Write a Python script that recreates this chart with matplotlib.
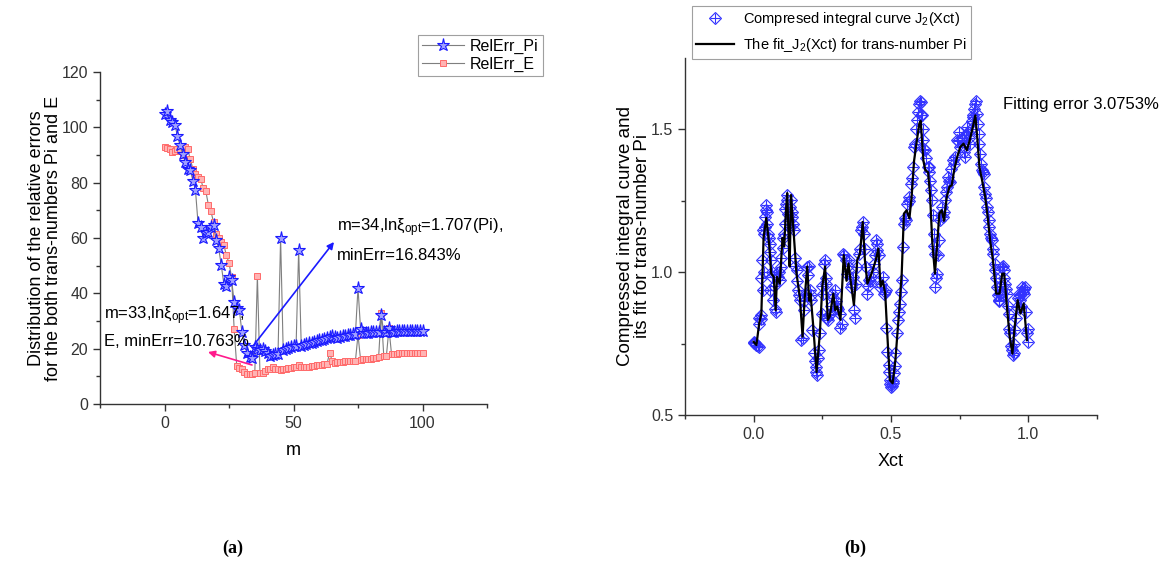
import matplotlib
matplotlib.use("Agg")
import matplotlib.pyplot as plt
import numpy as np

plt.rcParams['font.family'] = ['Liberation Sans', 'DejaVu Sans']
plt.rcParams['mathtext.fontset'] = 'custom'
plt.rcParams['mathtext.rm'] = 'Liberation Sans'
plt.rcParams['mathtext.it'] = 'Liberation Sans:italic'

# ---------------- data (a) ----------------
m_vals = list(range(0, 101))
relerr_pi = [105, 106, 102.5, 102, 101, 97, 93.5, 90.5, 87.5, 85,
             84.6, 80.7, 77.3, 65.3, 64, 60, 61.7, 62.3, 64, 64.7,
             59.3, 56.3, 50.2, 43.4, 42.6, 46, 44.8, 37, 34.6, 34,
             26, 21.3, 18.3, 17.1, 16.8, 20.7, 20, 19.5, 20, 19,
             18.5, 17.5, 17.8, 18, 18.2, 60, 19.5, 20, 20.3, 20.5,
             20.8, 21, 55.7, 21, 21.3, 21.6, 22, 22.2, 22.5, 22.8,
             23, 23.3, 23.5, 23.8, 24.2, 24.5, 24.2, 24, 24.2, 24.5,
             24.7, 25, 25, 25.2, 25.3, 42, 27, 25.5, 25.6, 25.8,
             26, 26, 26, 26, 32, 26, 26, 27.3, 26.2, 26.2,
             26.3, 26.3, 26.3, 26.3, 26.3, 26.3, 26.3, 26.3, 26.3, 26.3, 26.3]
relerr_e = [92.8, 92.7, 92, 91.2, 91.6, 92.2, 91.5, 90, 93, 92,
            88.5, 85, 83, 82, 81.5, 78, 77, 72, 69.6, 65.8,
            61.5, 60, 58.7, 57.5, 53.7, 51, 45.8, 27, 13.7, 13,
            12.5, 11.5, 11, 10.76, 11, 11.2, 46.4, 11.2, 11.3, 11.8,
            12.5, 12.7, 13.5, 12.8, 12.5, 12.4, 12.6, 12.8, 12.9, 13,
            13.2, 13.5, 14, 13.3, 13.2, 13.4, 13.5, 13.6, 13.8, 14,
            14, 14.2, 14.4, 14.6, 18.5, 15.6, 15, 15.2, 15.3, 15.3,
            15.4, 15.4, 15.5, 15.5, 15.6, 25, 16, 16.1, 16.2, 16.3,
            16.4, 16.6, 16.8, 17, 33, 17.2, 17.3, 27.3, 18, 18.1,
            18.2, 18.3, 18.4, 18.6, 18.6, 18.5, 18.5, 18.4, 18.4, 18.4, 18.4]

# ---------------- data (b) ----------------
j2_x = [0.0, 0.0, 0.01, 0.02, 0.02, 0.028, 0.02, 0.034, 0.028, 0.036, 0.034, 0.04, 0.046, 0.044, 0.038, 0.032,
        0.052, 0.058, 0.064, 0.068, 0.061, 0.071, 0.08, 0.083, 0.089, 0.095, 0.101,
        0.105, 0.109, 0.113, 0.117, 0.122, 0.125, 0.131, 0.137, 0.141, 0.146,
        0.150, 0.156, 0.162, 0.168, 0.174, 0.178, 0.182, 0.19, 0.195, 0.198,
        0.204, 0.21, 0.214, 0.219, 0.226, 0.231, 0.238, 0.241, 0.247, 0.253, 0.259, 0.265,
        0.271, 0.277, 0.287, 0.296, 0.304, 0.314, 0.316, 0.326, 0.336, 0.341, 0.348, 0.353, 0.36,
        0.365, 0.369, 0.375, 0.382, 0.389, 0.397, 0.401,
        0.409, 0.414, 0.421, 0.429, 0.438, 0.445, 0.45, 0.46, 0.47, 0.474, 0.482,
        0.482, 0.487, 0.491, 0.496, 0.501, 0.506, 0.511, 0.516,
        0.521, 0.527, 0.533, 0.539, 0.543, 0.547, 0.555,
        0.56, 0.567, 0.572, 0.579, 0.584, 0.591, 0.596, 0.603, 0.608, 0.613, 0.618, 0.625, 0.633, 0.64,
        0.645, 0.65, 0.655, 0.661, 0.661, 0.667,
        0.673, 0.679, 0.685, 0.691, 0.697, 0.703, 0.709,
        0.715, 0.725, 0.734, 0.74, 0.749, 0.758, 0.764, 0.77, 0.776, 0.782, 0.788, 0.794, 0.8, 0.807,
        0.813, 0.819, 0.825, 0.831, 0.837, 0.843, 0.849, 0.855, 0.861, 0.867, 0.873, 0.88, 0.886,
        0.892, 0.898, 0.904, 0.91, 0.916, 0.922, 0.928, 0.934, 0.94, 0.946, 0.953, 0.959, 0.965,
        0.971, 0.977, 0.983, 0.989, 0.995, 0.999,
        0.005, 0.015, 0.025, 0.042, 0.048, 0.05, 0.055, 0.06, 0.066, 0.075, 0.078, 0.092, 0.098,
        0.107, 0.115, 0.12, 0.128, 0.134, 0.139, 0.144, 0.152, 0.158, 0.165, 0.185, 0.2, 0.207,
        0.222, 0.228, 0.235, 0.25, 0.256, 0.262, 0.268, 0.274, 0.282, 0.29, 0.3, 0.308, 0.32,
        0.33, 0.345, 0.357, 0.372, 0.386, 0.393, 0.405, 0.418, 0.425, 0.433, 0.442, 0.448, 0.455,
        0.465, 0.478, 0.493, 0.498, 0.503, 0.508, 0.513, 0.53, 0.536, 0.552, 0.565, 0.575, 0.588,
        0.6, 0.605, 0.61, 0.615, 0.62, 0.628, 0.637, 0.643, 0.652, 0.658, 0.663, 0.67, 0.682,
        0.694, 0.7, 0.712, 0.72, 0.73, 0.745, 0.752, 0.76, 0.767, 0.773, 0.785, 0.79, 0.797,
        0.803, 0.81, 0.816, 0.822, 0.828, 0.834, 0.84, 0.846, 0.852, 0.858, 0.864, 0.87, 0.877,
        0.883, 0.889, 0.895, 0.9, 0.907, 0.913, 0.919, 0.925, 0.931, 0.937, 0.943, 0.949, 0.956,
        0.962, 0.968, 0.974, 0.98, 0.986, 0.992, 0.997]
j2_y = [0.756, 0.753, 0.745, 0.739, 0.82, 0.85, 0.838, 0.937, 0.978, 1.0, 1.147, 1.193, 1.234, 1.217, 1.135, 1.042,
        1.135, 1.10, 1.042, 0.984, 0.937, 0.902, 0.861, 0.995, 0.984, 0.972, 1.019,
        1.083, 1.135, 1.17, 1.24, 1.252, 1.205, 1.159, 1.252, 1.193, 1.147,
        1.048, 1.007, 0.937, 0.902, 0.762, 0.768, 0.867, 0.925, 1.019, 0.99,
        0.937, 0.902, 0.797, 0.716, 0.669, 0.64, 0.727, 0.786, 0.855, 0.925, 1.042, 0.96,
        0.832, 0.855, 0.925, 0.937, 0.879, 0.855, 0.803, 1.065, 1.042, 0.995, 1.042, 0.949, 0.984,
        0.867, 0.838, 1.019, 1.065, 1.147, 1.176, 1.135,
        1.019, 0.925, 0.972, 0.984, 1.03, 1.112, 1.077, 0.949, 0.984, 0.925, 0.937,
        0.803, 0.721, 0.675, 0.622, 0.599, 0.611, 0.646, 0.716,
        0.786, 0.832, 0.89, 0.972, 1.089, 1.17, 1.182,
        1.24, 1.263, 1.31, 1.368, 1.438, 1.502, 1.532, 1.59, 1.596, 1.549, 1.462, 1.427, 1.368, 1.368,
        1.287, 1.252, 1.135, 1.065, 0.949, 0.995,
        1.112, 1.182, 1.228, 1.193, 1.252, 1.298, 1.333,
        1.316, 1.392, 1.403, 1.462, 1.491, 1.462, 1.438, 1.403, 1.508, 1.491, 1.45, 1.531, 1.543, 1.59,
        1.555, 1.485, 1.415, 1.357, 1.345, 1.275, 1.228, 1.182, 1.135, 1.112, 1.065, 1.007, 0.949,
        0.902, 0.925, 1.019, 1.007, 0.96, 0.925, 0.855, 0.786, 0.727, 0.716, 0.797, 0.879, 0.925,
        0.902, 0.949, 0.925, 0.949, 0.786, 0.756,
        0.752, 0.742, 0.835, 1.16, 1.21, 1.17, 1.12, 1.07, 1.0, 0.95, 0.87, 1.0, 1.05,
        1.12, 1.22, 1.27, 1.18, 1.23, 1.21, 1.17, 1.02, 0.97, 0.92, 0.90, 1.02, 0.92,
        0.69, 0.65, 0.70, 0.95, 1.03, 0.98, 0.84, 0.85, 0.88, 0.91, 0.90, 0.87, 0.82,
        1.06, 1.02, 0.96, 0.96, 1.08, 1.16, 1.08, 0.95, 0.97, 1.0, 1.06, 1.10, 1.06,
        0.96, 0.93, 0.65, 0.61, 0.60, 0.62, 0.67, 0.86, 0.93, 1.19, 1.25, 1.33, 1.45,
        1.56, 1.60, 1.55, 1.50, 1.43, 1.40, 1.35, 1.32, 1.20, 1.09, 0.98, 1.06, 1.20,
        1.21, 1.28, 1.32, 1.36, 1.38, 1.46, 1.44, 1.47, 1.42, 1.48, 1.47, 1.50, 1.55,
        1.57, 1.60, 1.52, 1.45, 1.38, 1.35, 1.30, 1.26, 1.21, 1.16, 1.12, 1.08, 1.03,
        0.98, 0.92, 0.90, 0.95, 1.02, 0.98, 0.94, 0.88, 0.80, 0.74, 0.71, 0.75, 0.84,
        0.91, 0.92, 0.88, 0.93, 0.94, 0.86, 0.80]

fit_x = [0.0, 0.01, 0.02, 0.028, 0.036, 0.046, 0.056, 0.064, 0.073, 0.08, 0.085, 0.095, 0.105, 0.111,
         0.117, 0.122, 0.127, 0.131, 0.136, 0.144, 0.156, 0.168, 0.178, 0.185, 0.195, 0.202, 0.207,
         0.217, 0.229, 0.241, 0.25, 0.26, 0.27, 0.277, 0.29, 0.297, 0.304, 0.316, 0.328, 0.338, 0.345,
         0.353, 0.365, 0.377, 0.387, 0.397, 0.405, 0.414, 0.429, 0.445, 0.454, 0.462, 0.47, 0.479,
         0.487, 0.496, 0.506, 0.516, 0.527, 0.539, 0.547, 0.557, 0.567, 0.575, 0.584, 0.594, 0.603,
         0.608, 0.618, 0.625, 0.635, 0.642, 0.65, 0.66, 0.669, 0.676, 0.685, 0.693, 0.703, 0.713,
         0.721, 0.73, 0.74, 0.752, 0.764, 0.776, 0.786, 0.798, 0.807, 0.815, 0.822, 0.832, 0.843,
         0.852, 0.861, 0.871, 0.883, 0.895, 0.905, 0.912, 0.922, 0.932, 0.942, 0.949, 0.961, 0.971,
         0.983, 0.995]
fit_y = [0.756, 0.745, 0.82, 0.855, 1.12, 1.19, 1.10, 0.995, 0.984, 0.867, 0.984, 0.96, 1.12, 1.09,
         1.205, 1.277, 1.13, 1.02, 1.27, 1.16, 0.995, 0.914, 0.774, 0.90, 1.02, 0.90, 0.925,
         0.81, 0.65, 0.787, 0.95, 1.02, 0.833, 0.845, 0.925, 0.867, 0.88, 0.833, 1.06, 0.97, 1.03,
         0.97, 0.885, 1.043, 1.065, 1.176, 1.043, 0.96, 0.995, 1.043, 1.083, 0.95, 0.97, 0.925,
         0.774, 0.622, 0.611, 0.692, 0.832, 0.995, 1.205, 1.217, 1.188, 1.263, 1.39, 1.46, 1.52,
         1.53, 1.39, 1.357, 1.35, 1.275, 1.11, 0.995, 1.11, 1.205, 1.217, 1.18, 1.263, 1.3,
         1.304, 1.357, 1.40, 1.438, 1.45, 1.427, 1.46, 1.508, 1.549, 1.46, 1.368, 1.32, 1.263,
         1.193, 1.11, 1.043, 0.925, 0.925, 0.995, 0.995, 0.88, 0.774, 0.715, 0.797, 0.902, 0.855,
         0.89, 0.762]

W, H = 1168, 564
fig = plt.figure(figsize=(W / 100, H / 100), dpi=100)

def fig_axes(x0, y0, x1, y1):
    return fig.add_axes([x0 / W, 1 - y1 / H, (x1 - x0) / W, (y1 - y0) / H])

def style_axes(ax):
    for s in ['top', 'right']:
        ax.spines[s].set_visible(False)
    for s in ['left', 'bottom']:
        ax.spines[s].set_color('#333333')
        ax.spines[s].set_linewidth(1.0)
    ax.tick_params(which='major', direction='out', length=5, width=1, color='#333333',
                   labelsize=11.5, labelcolor='#333333')
    ax.tick_params(which='minor', direction='out', length=3, width=1, color='#333333')

# ---------------- panel (a) ----------------
ax1 = fig_axes(100, 72, 487, 404)
style_axes(ax1)
ax1.plot(m_vals, relerr_pi, color='#7f7f7f', lw=0.8, marker='*', ms=9.5,
         mfc='#a0a0ff', mec='#1a1aff', mew=0.8, label='RelErr_Pi', zorder=3)
ax1.plot(m_vals, relerr_e, color='#7f7f7f', lw=0.8, marker='s', ms=4.5,
         mfc='#ffb3b3', mec='#ff6a6a', mew=0.7, label='RelErr_E', zorder=2)
ax1.set_xlim(-25, 125)
ax1.set_ylim(0, 120)
ax1.set_xticks([0, 50, 100])
ax1.set_xticks([-25, 25, 75, 125], minor=True)
ax1.set_yticks(np.arange(0, 121, 20))
ax1.set_yticks(np.arange(10, 120, 20), minor=True)
ax1.set_xlabel('m', fontsize=13, labelpad=8)
ax1.set_ylabel('Distribution of the relative errors\nfor the both trans-numbers Pi and E',
               fontsize=13, labelpad=0, linespacing=1.0)
leg1 = ax1.legend(loc='upper left', bbox_to_anchor=(418 / W, 1 - 35 / H), bbox_transform=fig.transFigure,
                  fontsize=11.5, frameon=True, fancybox=False, edgecolor='#888888',
                  handlelength=2.6, borderpad=0.25, labelspacing=0.15, handletextpad=0.4,
                  borderaxespad=0)
leg1.get_frame().set_linewidth(0.8)

ax1.annotate('', xy=(334 / W, 1 - 242 / H), xycoords='figure fraction',
             xytext=(253 / W, 1 - 346 / H), textcoords='figure fraction',
             arrowprops=dict(arrowstyle='-|>', color='#1a1aff', lw=1.2, mutation_scale=10,
                             shrinkA=0, shrinkB=0))
ax1.annotate('', xy=(208 / W, 1 - 352 / H), xycoords='figure fraction',
             xytext=(252 / W, 1 - 365 / H), textcoords='figure fraction',
             arrowprops=dict(arrowstyle='-|>', color='#ff1a8c', lw=1.2, mutation_scale=10,
                             shrinkA=0, shrinkB=0))
fig.text(337 / W, 1 - 228 / H, 'm=34,ln\u03be$_{\\rm opt}$=1.707(Pi),', fontsize=12, va='center', ha='left')
fig.text(337 / W, 1 - 255 / H, 'minErr=16.843%', fontsize=12, va='center', ha='left')
fig.text(104 / W, 1 - 316 / H, 'm=33,ln\u03be$_{\\rm opt}$=1.647,', fontsize=12, va='center', ha='left')
fig.text(104 / W, 1 - 341 / H, 'E, minErr=10.763%', fontsize=12, va='center', ha='left')

# ---------------- panel (b) ----------------
ax2 = fig_axes(685, 58, 1097, 415)
style_axes(ax2)
ax2.plot(j2_x, j2_y, linestyle='none', marker='D', ms=6.5, mfc='none', mec='#3333ff', mew=0.8, zorder=2)
ax2.plot(j2_x, j2_y, linestyle='none', marker='+', ms=7, mec='#3333ff', mew=0.8, zorder=2)
ax2.plot(fit_x, fit_y, color='black', lw=1.6, zorder=3)
ax2.set_xlim(-0.25, 1.25)
ax2.set_ylim(0.5, 1.75)
ax2.set_xticks([0.0, 0.5, 1.0])
ax2.set_xticklabels(['0.0', '0.5', '1.0'])
ax2.set_xticks([-0.25, 0.25, 0.75, 1.25], minor=True)
ax2.set_yticks([0.5, 1.0, 1.5])
ax2.set_yticklabels(['0.5', '1.0', '1.5'])
ax2.set_yticks([0.75, 1.25], minor=True)
ax2.set_xlabel('Xct', fontsize=13, labelpad=8)
ax2.set_ylabel('Compressed integral curve and\nits fit for trans-number Pi', fontsize=13.5,
               labelpad=0, linespacing=1.0)
fig.text(1003 / W, 1 - 104 / H, 'Fitting error 3.0753%', fontsize=12, va='center', ha='left')

from matplotlib.lines import Line2D
h1 = (Line2D([], [], linestyle='none', marker='D', ms=6.5, mfc='none', mec='#3333ff', mew=0.8),
      Line2D([], [], linestyle='none', marker='+', ms=7, mec='#3333ff', mew=0.8))
h2 = Line2D([], [], color='black', lw=1.6)
leg2 = ax2.legend([h1, h2], ['Compresed integral curve J$_2$(Xct)', 'The fit_J$_2$(Xct) for trans-number Pi'],
                  loc='upper left', bbox_to_anchor=(692 / W, 1 - 6 / H), bbox_transform=fig.transFigure,
                  fontsize=10.5, frameon=True, fancybox=False, edgecolor='#888888',
                  handlelength=2.6, borderpad=0.3, labelspacing=0.55, handletextpad=0.6,
                  borderaxespad=0)
leg2.get_frame().set_linewidth(0.8)

fig.text(233 / W, 1 - 548 / H, '(a)', fontsize=13, fontweight='bold', family='Liberation Serif',
         ha='center', va='center')
fig.text(855 / W, 1 - 548 / H, '(b)', fontsize=13, fontweight='bold', family='Liberation Serif',
         ha='center', va='center')

fig.savefig('out.png', dpi=100)
